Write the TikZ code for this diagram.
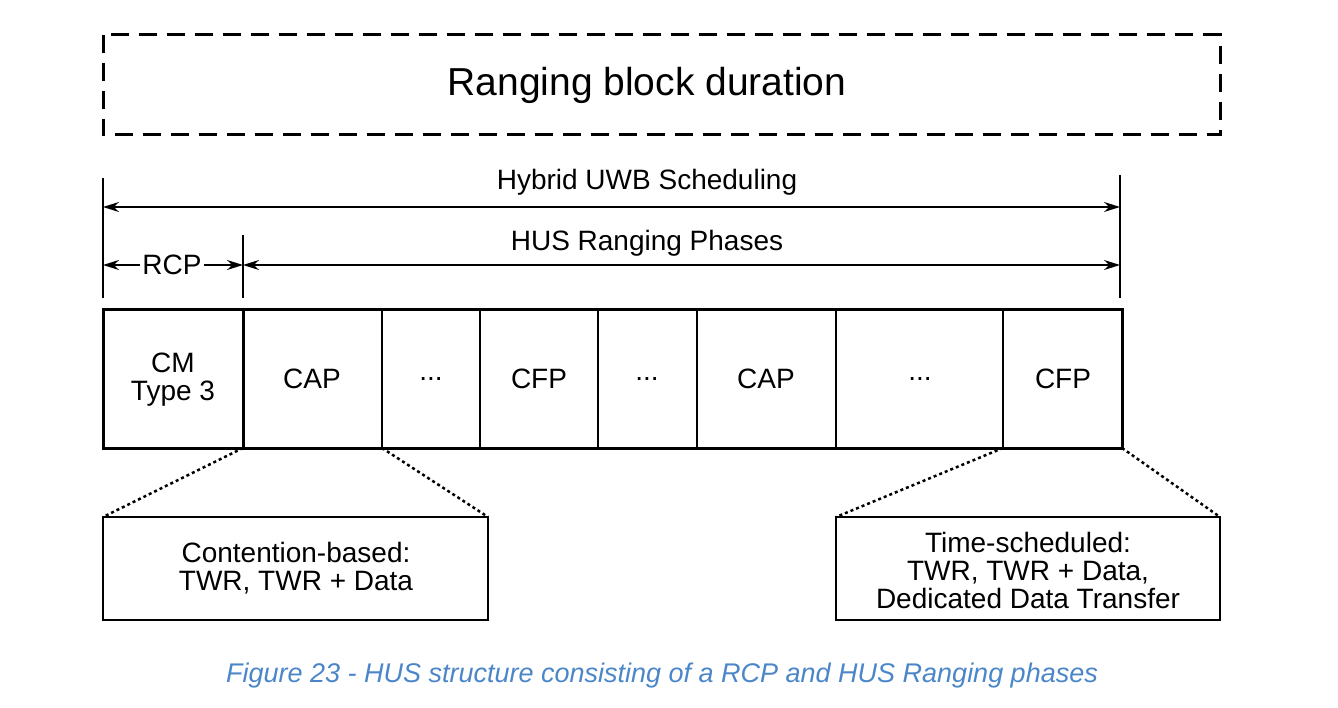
\documentclass[tikz,border=0pt]{standalone}
\usepackage{fontspec}
\usetikzlibrary{arrows.meta}
\setmainfont{Liberation Sans}
\definecolor{capblue}{RGB}{74,134,200}
\begin{document}
\begin{tikzpicture}[x=1pt,y=-1pt,
  lbl/.style={font=\fontsize{28}{30}\selectfont, inner sep=1pt},
  dim/.style={line width=1.5pt,{Stealth[length=16pt,width=10pt]}-{Stealth[length=16pt,width=10pt]}},
  tick/.style={line width=1.2pt},
  dots/.style={line width=2.5pt,dash pattern=on 3pt off 3pt},
  slot/.style={line width=1.5pt}]
\useasboundingbox (0,0) rectangle (1338,708);
\draw[line width=3pt,dash pattern=on 18pt off 10pt] (103,35) rectangle (1220,135);
\node[font=\fontsize{39}{41}\selectfont] (rb) at (647,85) {Ranging block duration};
% ticks
\coordinate (t0a) at (103,178); \coordinate (t0b) at (103,298);
\coordinate (t1a) at (1120,175); \coordinate (t1b) at (1120,298);
\coordinate (t2a) at (243,235); \coordinate (t2b) at (243,298);
\draw[tick] (t0a)--(t0b); \draw[tick] (t1a)--(t1b); \draw[tick] (t2a)--(t2b);
\coordinate (h0) at (103,207); \coordinate (h1) at (1120,207);
\draw[dim] (h0)--(h1);
\node[lbl] (hl) at (647,182) {Hybrid UWB Scheduling};
\coordinate (r0) at (103,265); \coordinate (r1) at (243,265); \coordinate (r2) at (1120,265);
\draw[dim] (r0)--(r1); \draw[dim] (r1)--(r2);
\node[lbl] (hr) at (647,243) {HUS Ranging Phases};
\node[lbl,fill=white,inner sep=2pt] (rcp) at (172,265) {RCP};
% slots
\foreach \x in {382,480,598,697,836,1003} \draw[slot] (\x,310)--(\x,448);
\draw[line width=3pt] (103,310) rectangle (1122,448);
\draw[line width=3pt] (243,310)--(243,448);
\node[lbl,align=center] (s0) at (173,380) {CM\\[-2pt]Type 3};
\node[lbl] (s1) at (312,379) {CAP};
\node[lbl] (s2) at (431,379) {...};
\node[lbl] (s3) at (539,379) {CFP};
\node[lbl] (s4) at (647,379) {...};
\node[lbl] (s5) at (766,379) {CAP};
\node[lbl] (s6) at (920,379) {...};
\node[lbl] (s7) at (1063,379) {CFP};
% bottom boxes
\draw[slot] (103,517) rectangle (488,620);
\draw[slot] (836,517) rectangle (1220,620);
\node[lbl,align=center] (b1) at (296,568) {Contention-based:\\[-2pt]TWR, TWR + Data};
\node[lbl,align=center] (b2) at (1028,570) {Time-scheduled:\\[-2pt]TWR, TWR + Data,\\[-2pt]Dedicated Data Transfer};
\draw[dots] (243,448)--(103,517);
\draw[dots] (382,448)--(488,517);
\draw[dots] (1003,448)--(836,517);
\draw[dots] (1122,448)--(1220,517);
\node[font=\fontsize{27}{29}\selectfont\itshape,text=capblue] (cap) at (662,676) {Figure 23 - HUS structure consisting of a RCP and HUS Ranging phases};
\end{tikzpicture}
\end{document}
